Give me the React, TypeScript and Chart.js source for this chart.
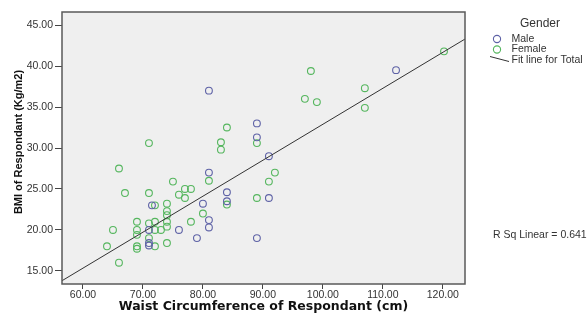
import React, { useEffect, useRef } from "react";
import { Chart, registerables } from "chart.js";

Chart.register(...registerables);

// Waist circumference (cm) and BMI (kg/m2) for each respondent
const maleWaist = [81, 112.2, 89, 89, 91, 81, 84, 84, 91, 80, 81, 81, 76, 79, 89, 71.5, 71, 71, 71];
const maleBMI = [37.0, 39.5, 33.0, 31.3, 29.0, 27.0, 24.6, 23.5, 23.9, 23.2, 21.2, 20.3, 20.0, 19.0, 19.0, 23.0, 20.0, 18.4, 18.1];

const femaleWaist = [120.2, 98, 107, 107, 97, 99, 84, 89, 83, 83, 71, 66, 92, 91, 81, 75, 67, 71, 77, 78, 76, 77, 89, 84, 74, 72, 74, 74, 74, 74, 74, 80, 78, 69, 71, 72, 65, 69, 69, 72, 73, 71, 72, 69, 69, 64, 66];
const femaleBMI = [41.8, 39.4, 37.3, 34.9, 36.0, 35.6, 32.5, 30.6, 30.7, 29.8, 30.6, 27.5, 27.0, 25.9, 26.0, 25.9, 24.5, 24.5, 25.0, 25.0, 24.3, 23.9, 23.9, 23.1, 23.2, 23.0, 22.3, 21.8, 21.0, 20.4, 18.4, 22.0, 21.0, 21.0, 20.8, 21.0, 20.0, 20.0, 19.4, 20.0, 20.0, 19.0, 18.0, 18.0, 17.7, 18.0, 16.0];

// Fit line for total (end points)
const fitWaist = [56.5, 123.7];
const fitBMI = [13.8, 43.3];

const xTickValues = [60, 70, 80, 90, 100, 110, 120];
const yTickValues = [15, 20, 25, 30, 35, 40, 45];

const xTitle = "Waist Circumference of Respondant (cm)";
const yTitle = "BMI of Respondant (Kg/m2)";
const legendTitle = "Gender";
const legendLabels = ["Male", "Female", "Fit line for Total"];
const rSquareText = "R Sq Linear = 0.641";

const MALE_COLOR = "#5e62a6";
const FEMALE_COLOR = "#55b65e";
const FIT_COLOR = "#333333";
const FONT = "'Liberation Sans', Arial, sans-serif";

const toPoints = (xs: number[], ys: number[]) => xs.map((x, i) => ({ x, y: ys[i] }));

const decorPlugin = {
  id: "decor",
  beforeDatasetsDraw(chart: any) {
    const { ctx, chartArea: a } = chart;
    ctx.save();
    ctx.fillStyle = "#efefef";
    ctx.fillRect(a.left, a.top, a.right - a.left, a.bottom - a.top);
    ctx.restore();
  },
  afterDraw(chart: any) {
    const { ctx, chartArea: a } = chart;
    ctx.save();
    // frame
    ctx.strokeStyle = "#5a5a5a";
    ctx.lineWidth = 1.5;
    ctx.strokeRect(a.left, a.top, a.right - a.left, a.bottom - a.top);

    // y axis title
    ctx.save();
    ctx.translate(19, 142);
    ctx.rotate(-Math.PI / 2);
    ctx.textAlign = "center";
    ctx.textBaseline = "middle";
    ctx.fillStyle = "#111";
    ctx.font = `bold 11px ${FONT}`;
    ctx.fillText(yTitle, 0, 0);
    ctx.restore();

    // legend
    const lx = a.right + 32;
    ctx.fillStyle = "#333";
    ctx.textBaseline = "middle";
    ctx.textAlign = "center";
    ctx.font = `12px ${FONT}`;
    ctx.fillText(legendTitle, lx + 43, 24);

    ctx.textAlign = "left";
    ctx.font = `10.5px ${FONT}`;
    const rows = [39, 49.5, 60.5];
    const colors = [MALE_COLOR, FEMALE_COLOR];
    for (let i = 0; i < 2; i++) {
      ctx.beginPath();
      ctx.arc(lx, rows[i], 3.6, 0, Math.PI * 2);
      ctx.strokeStyle = colors[i];
      ctx.lineWidth = 1.1;
      ctx.stroke();
    }
    ctx.beginPath();
    ctx.moveTo(lx - 7, rows[2] - 4);
    ctx.lineTo(lx + 12, rows[2] + 1);
    ctx.strokeStyle = FIT_COLOR;
    ctx.lineWidth = 1;
    ctx.stroke();
    for (let i = 0; i < 3; i++) {
      ctx.fillStyle = "#333";
      ctx.fillText(legendLabels[i], lx + 14.5, rows[i]);
    }

    ctx.font = `10.5px ${FONT}`;
    ctx.fillText(rSquareText, a.right + 28, 235);
    ctx.restore();
  },
};

export default function App() {
  const canvasRef = useRef<HTMLCanvasElement | null>(null);

  useEffect(() => {
    const canvas = canvasRef.current;
    if (!canvas) return;
    const chart = new Chart(canvas, {
      type: "scatter",
      data: {
        datasets: [
          {
            type: "line",
            label: "Fit line for Total",
            data: toPoints(fitWaist, fitBMI),
            borderColor: FIT_COLOR,
            borderWidth: 1,
            pointRadius: 0,
            fill: false,
            tension: 0,
          } as any,
          {
            label: "Male",
            data: toPoints(maleWaist, maleBMI),
            borderColor: MALE_COLOR,
            backgroundColor: "rgba(0,0,0,0)",
            borderWidth: 1.1,
            pointRadius: 3.4,
          },
          {
            label: "Female",
            data: toPoints(femaleWaist, femaleBMI),
            borderColor: FEMALE_COLOR,
            backgroundColor: "rgba(0,0,0,0)",
            borderWidth: 1.1,
            pointRadius: 3.4,
          },
        ],
      },
      options: {
        responsive: false,
        animation: false,
        layout: { padding: { left: 0, right: 122, top: 12, bottom: 0 } },
        plugins: { legend: { display: false }, tooltip: { enabled: false } },
        scales: {
          x: {
            type: "linear",
            min: 56.5,
            max: 123.7,
            afterBuildTicks: (s: any) => {
              s.ticks = xTickValues.map((v) => ({ value: v }));
            },
            afterFit: (s: any) => {
              s.height = 38;
            },
            ticks: {
              autoSkip: false,
              maxRotation: 0,
              padding: 0,
              color: "#333",
              font: { family: FONT, size: 10.5 },
              callback: (v: any) => Number(v).toFixed(2),
            },
            grid: { display: true, drawOnChartArea: false, drawTicks: true, tickLength: 5, color: "#444" },
            border: { display: false },
            title: {
              display: true,
              text: xTitle,
              color: "#111",
              font: { family: "'DejaVu Sans', Verdana, sans-serif", size: 12.5, weight: "bold" },
              padding: { top: 0, bottom: 8 },
            },
          },
          y: {
            type: "linear",
            min: 13.4,
            max: 46.6,
            afterBuildTicks: (s: any) => {
              s.ticks = yTickValues.map((v) => ({ value: v }));
            },
            afterFit: (s: any) => {
              s.width = 62;
            },
            ticks: {
              autoSkip: false,
              padding: 2,
              color: "#333",
              font: { family: FONT, size: 10.5 },
              callback: (v: any) => Number(v).toFixed(2),
            },
            grid: { display: true, drawOnChartArea: false, drawTicks: true, tickLength: 7, color: "#444" },
            border: { display: false },
            title: { display: false },
          },
        },
      },
      plugins: [decorPlugin],
    } as any);
    return () => chart.destroy();
  }, []);

  return (
    <div style={{ position: "fixed", left: 0, top: 0, width: 587, height: 322, background: "#fff" }}>
      <canvas ref={canvasRef} width={587} height={322} />
    </div>
  );
}
